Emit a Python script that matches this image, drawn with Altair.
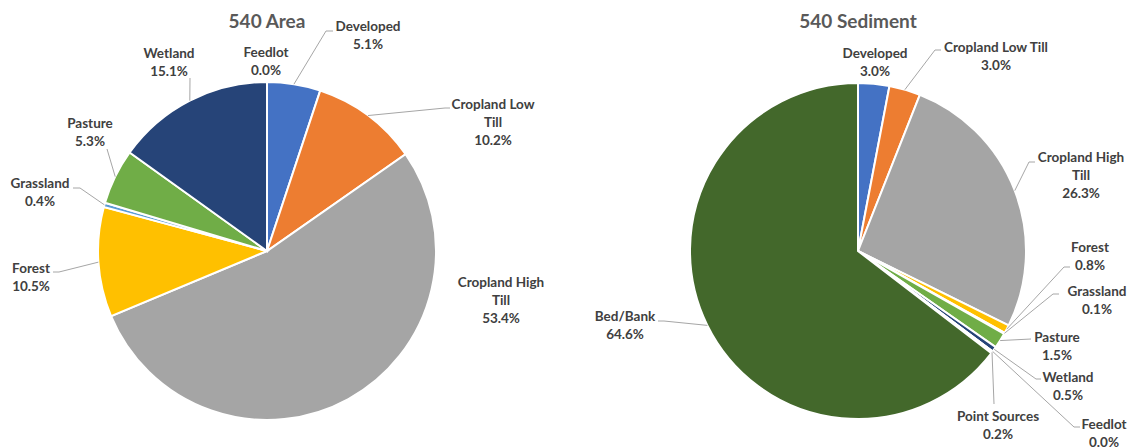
import altair as alt
import numpy as np
import pandas as pd

# ---------------- data ----------------
categories = ["Developed", "Cropland Low Till", "Cropland High Till", "Forest",
              "Grassland", "Pasture", "Wetland", "Feedlot", "Point Sources", "Bed/Bank"]
colors = ["#4472C4", "#ED7D31", "#A5A5A5", "#FFC000", "#5B9BD5",
          "#70AD47", "#264478", "#9E480E", "#636363", "#43682B"]

area_cats = ["Developed", "Cropland Low Till", "Cropland High Till", "Forest",
             "Grassland", "Pasture", "Wetland", "Feedlot"]
area_vals = [5.1, 10.2, 53.4, 10.5, 0.4, 5.3, 15.1, 0.0]
area_names = ["Developed", "Cropland  Low\nTill", "Cropland High\nTill", "Forest",
              "Grassland", "Pasture", "Wetland", "Feedlot"]

sed_cats = ["Developed", "Cropland Low Till", "Cropland High Till", "Forest",
            "Grassland", "Pasture", "Wetland", "Feedlot", "Point Sources", "Bed/Bank"]
sed_vals = [3.0, 3.0, 26.3, 0.8, 0.1, 1.5, 0.5, 0.0, 0.2, 64.6]
sed_names = ["Developed", "Cropland Low Till", "Cropland High\nTill", "Forest",
             "Grassland", "Pasture", "Wetland", "Feedlot", "Point Sources", "Bed/Bank"]

titles = ["540 Area", "540 Sediment"]

# ---------------- layout ----------------
pies = [dict(cx=267, cy=251, r=169), dict(cx=858, cy=251, r=168)]
title_y = 28

# label block: centre x, centre y of first line
area_label_pos = [(368, 26), (493, 104), (501, 282), (31, 268), (40, 183),
                  (90, 123), (169, 53), (266, 52)]
area_leaders = [[(326, 31), (333, 31)], [(445, 108), (450, 108)], None,
                [(59, 272), (53, 272)], [(80, 188), (73, 188)],
                [(107, 149)], [(190, 78)], None]

sed_label_pos = [(875, 53), (996, 47), (1081, 157), (1090, 247), (1097, 291),
                 (1057, 337), (1068, 377), (1104, 424), (998, 416), (625, 316)]
sed_leaders = [None, [(935, 50), (941, 50)], [(1029, 162), (1035, 162)],
               [(1064, 267), (1070, 267)], [(1053, 294), (1059, 294)],
               [(1031, 339)], [(1036, 379), (1041, 379)],
               [(1074, 427), (1080, 427)], [(994, 404)],
               [(664, 321), (658, 321)]]

FONT = "Lato"
LABEL_SIZE = 13.5
LINE_H = 18

color_scale = alt.Scale(domain=categories, range=colors)


def pie_layer(cats, vals, geo):
    df = pd.DataFrame({"cat": cats, "value": vals, "idx": list(range(len(cats)))})
    return alt.Chart(df).mark_arc(
        outerRadius=geo["r"], stroke="white", strokeWidth=2
    ).encode(
        theta=alt.Theta("value:Q", stack=True, scale=alt.Scale(domain=[0, 100])),
        order=alt.Order("idx:Q"),
        color=alt.Color("cat:N", scale=color_scale, legend=None),
        x=alt.value(geo["cx"]),
        y=alt.value(geo["cy"]),
    )


def label_rows(names, vals, pos):
    rows = []
    for n, v, (x, y) in zip(names, vals, pos):
        rows.append({"label": f"{n}\n{v:.1f}%", "lx": x, "ly": y + 4.5})
    return rows


def leader_rows(prefix, vals, leaders, geo):
    rows = []
    total = float(sum(vals))
    cum = np.concatenate([[0.0], np.cumsum(vals)])
    for i, pts in enumerate(leaders):
        if not pts:
            continue
        mid = (cum[i] + cum[i + 1]) / 2.0 / total * 2 * np.pi
        x0 = geo["cx"] + geo["r"] * np.sin(mid)
        y0 = geo["cy"] - geo["r"] * np.cos(mid)
        allpts = [(x0, y0)] + list(pts)
        for k, (px, py) in enumerate(allpts):
            rows.append({"lid": f"{prefix}{i}", "ord": k, "px": px, "py": py})
    return rows


labels_df = pd.DataFrame(label_rows(area_names, area_vals, area_label_pos)
                         + label_rows(sed_names, sed_vals, sed_label_pos))
leaders_df = pd.DataFrame(leader_rows("a", area_vals, area_leaders, pies[0])
                          + leader_rows("s", sed_vals, sed_leaders, pies[1]))
titles_df = pd.DataFrame({"t": titles, "tx": [p["cx"] for p in pies],
                          "ty": [title_y, title_y]})

leader_layer = alt.Chart(leaders_df).mark_line(color="#A6A6A6", strokeWidth=1).encode(
    x=alt.X("px:Q", scale=None, axis=None),
    y=alt.Y("py:Q", scale=None, axis=None),
    detail="lid:N",
    order="ord:Q",
)

label_layer = alt.Chart(labels_df).mark_text(
    align="center", baseline="alphabetic", lineBreak="\n", font=FONT,
    fontSize=LABEL_SIZE, fontWeight="bold", color="#404040", lineHeight=LINE_H
).encode(
    x=alt.X("lx:Q", scale=None, axis=None),
    y=alt.Y("ly:Q", scale=None, axis=None),
    text="label:N",
)

title_layer = alt.Chart(titles_df).mark_text(
    align="center", baseline="alphabetic", font=FONT, fontSize=19,
    fontWeight="bold", color="#595959"
).encode(
    x=alt.X("tx:Q", scale=None, axis=None),
    y=alt.Y("ty:Q", scale=None, axis=None),
    text="t:N",
)

chart = alt.layer(
    pie_layer(area_cats, area_vals, pies[0]),
    pie_layer(sed_cats, sed_vals, pies[1]),
    leader_layer,
    label_layer,
    title_layer,
).properties(
    width=1135, height=448, padding=0,
    autosize=alt.AutoSizeParams(type="none"),
    background="white",
).configure_view(strokeWidth=0)

chart.save("out.html", embed_options={"renderer": "svg", "actions": False})
